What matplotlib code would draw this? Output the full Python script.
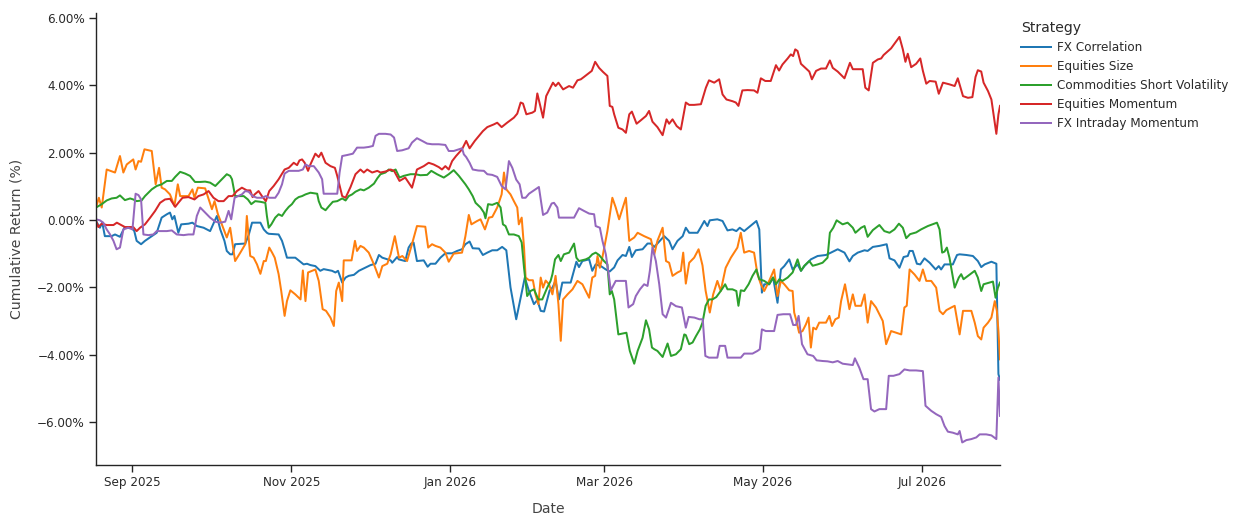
import pandas as pd
import matplotlib.pyplot as plt
from matplotlib.ticker import FuncFormatter

# series start date; day lists are calendar days after it
start = "2025-08-18"

strategies = ["FX Correlation", "Equities Size", "Commodities Short Volatility",
              "Equities Momentum", "FX Intraday Momentum"]
colors = ["#1f77b4", "#ff7f0e", "#2ca02c", "#d62728", "#9467bd"]

fx_corr_day = [0, 1.5, 2.4, 3.4, 6.0, 7.3, 9.2, 10.9, 13.7, 14.7, 15.6, 17.3, 18.8, 21.4, 23.3, 25.2, 27.2, 28.4,
               29.3, 30.1, 31.6, 32.7, 35.5, 37.0, 38.7, 41.3, 43.8, 46.4, 47.7, 49.3, 50.2, 51.5, 52.4, 53.4, 57.3,
               58.6, 59.9, 63.1, 64.4, 65.6, 66.3, 70.1, 71.4, 72.4, 73.3, 76.5, 77.8, 79.7, 81.0, 82.3, 84.2, 86.1,
               87.4, 90.6, 91.9, 92.9, 94.5, 95.8, 97.0, 99.0, 100.9, 102.2, 105.4, 107.3, 108.6, 109.9, 113.1, 113.7,
               115.6, 116.2, 118.7, 120.0, 121.0, 121.9, 123.2, 125.8, 127.3, 128.4, 130.3, 132.2, 134.1, 136.7, 138.6,
               140.5, 141.8, 143.4, 144.6, 147.0, 148.5, 150.2, 152.1, 154.0, 155.9, 157.5, 159.1, 161.3, 163.0, 164.6,
               166.2, 168.1, 169.4, 170.7, 172.0, 174.1, 175.2, 176.4, 177.7, 179.0, 182.2, 184.4, 185.4, 186.7, 189.3,
               190.5, 191.8, 193.8, 195.7, 197.2, 198.9, 200.2, 202.1, 203.4, 204.7, 205.7, 207.2, 209.8, 211.7, 213.0,
               214.3, 216.2, 218.1, 220.0, 221.3, 223.2, 225.2, 226.4, 227.7, 230.9, 232.2, 233.5, 234.7, 235.6, 238.5,
               240.5, 242.4, 244.3, 245.8, 247.1, 248.8, 250.7, 253.5, 254.6, 255.6, 256.5, 258.4, 259.9, 261.6, 262.9,
               264.2, 266.1, 267.4, 269.3, 270.6, 271.9, 274.4, 277.0, 280.2, 282.1, 284.7, 287.3, 289.2, 290.5, 292.4,
               295.0, 296.2, 298.2, 300.7, 303.5, 304.6, 306.5, 308.4, 310.0, 311.6, 312.3, 313.5, 315.1, 316.4, 318.0,
               320.0, 322.3, 323.5, 324.4, 325.7, 327.0, 328.9, 330.5, 331.5, 334.1, 336.6, 338.5, 339.8, 341.1, 343.7,
               345.6, 346.4, 347]
fx_corr_ret = [-0.03, -0.23, -0.08, -0.48, -0.48, -0.43, -0.50, -0.23, -0.23, -0.33, -0.62, -0.72, -0.62, -0.48,
               -0.38, 0.07, 0.17, 0.22, 0.02, 0.12, -0.38, -0.13, -0.11, -0.08, -0.18, -0.23, -0.33, 0.12, -0.28, -0.62,
               -0.92, -1.02, -1.02, -0.72, -0.70, -0.45, -0.08, -0.08, -0.28, -0.38, -0.41, -0.43, -0.62, -0.87, -1.12,
               -1.12, -1.20, -1.32, -1.30, -1.34, -1.37, -1.51, -1.46, -1.51, -1.56, -1.51, -1.86, -1.71, -1.66, -1.63,
               -1.51, -1.46, -1.34, -1.30, -1.04, -1.12, -1.20, -1.27, -1.10, -1.17, -1.22, -0.82, -0.70, -0.67, -1.22,
               -1.20, -1.39, -1.30, -1.30, -1.12, -0.99, -0.99, -0.92, -0.87, -0.72, -0.64, -0.84, -0.85, -1.04, -0.97,
               -0.90, -0.90, -0.80, -0.90, -2.00, -2.95, -2.31, -1.71, -2.11, -2.50, -2.38, -2.70, -2.72, -2.10, -2.01,
               -1.81, -2.36, -1.86, -1.86, -1.24, -1.40, -1.22, -1.17, -1.51, -1.32, -1.37, -1.47, -1.53, -1.41, -1.20,
               -1.04, -1.07, -0.80, -1.10, -0.90, -0.87, -0.70, -0.70, -0.80, -0.64, -0.48, -0.62, -0.87, -0.62, -0.48,
               -0.23, -0.38, -0.38, -0.21, -0.03, -0.18, -0.01, 0.02, -0.03, -0.31, -0.28, -0.33, -0.23, -0.33, -0.21,
               -0.03, -0.28, -2.16, -1.91, -1.91, -1.71, -2.46, -1.47, -1.37, -1.17, -1.47, -1.32, -1.51, -1.37, -1.17,
               -1.07, -1.04, -0.97, -0.87, -0.97, -1.23, -1.07, -0.97, -0.90, -0.92, -0.80, -0.77, -0.72, -1.14, -1.20,
               -1.42, -1.10, -1.07, -0.92, -0.92, -1.30, -1.32, -1.14, -1.27, -1.47, -1.37, -1.47, -1.32, -1.32, -1.32,
               -1.04, -1.02, -1.04, -1.07, -1.22, -1.40, -1.32, -1.24, -1.30, -4.58, -4.75]

eq_size_day = [0, 1.1, 2.2, 4.1, 7.3, 9.2, 10.5, 11.8, 14.3, 15.2, 16.3, 17.3, 18.6, 21.4, 22.9, 24.2, 25.2, 26.5,
               28.4, 30.1, 31.4, 32.3, 35.5, 37.0, 37.8, 39.1, 41.9, 44.5, 45.5, 46.8, 48.3, 50.2, 51.5, 53.4, 55.4,
               57.3, 57.9, 59.2, 60.5, 61.8, 63.1, 64.4, 65.2, 66.5, 67.6, 68.6, 70.1, 71.1, 72.4, 73.3, 74.6, 76.5,
               78.5, 79.4, 80.4, 81.4, 84.2, 85.5, 87.0, 88.3, 90.0, 91.3, 92.2, 93.2, 94.5, 95.1, 98.1, 99.4, 100.2,
               101.5, 102.8, 104.7, 106.7, 108.6, 109.9, 111.8, 113.1, 114.7, 116.3, 117.6, 119.4, 121.1, 123.2, 126.4,
               127.5, 129.0, 130.3, 132.2, 134.1, 135.4, 137.3, 140.5, 141.8, 143.1, 144.1, 146.3, 147.6, 149.3, 150.8,
               152.1, 154.0, 155.7, 156.6, 157.5, 159.1, 160.4, 161.7, 162.3, 163.4, 164.3, 164.9, 166.2, 167.7, 168.7,
               169.8, 170.7, 171.6, 172.6, 173.9, 175.2, 176.4, 177.5, 178.4, 179.3, 181.0, 182.9, 184.8, 186.7, 189.3,
               190.5, 191.6, 192.5, 193.4, 194.4, 196.3, 198.2, 199.5, 200.8, 203.4, 204.7, 206.6, 207.9, 210.4, 213.0,
               214.3, 215.5, 217.5, 218.8, 220.0, 221.3, 223.2, 224.5, 225.4, 226.4, 227.7, 229.6, 231.3, 232.8, 234.0,
               235.6, 236.9, 238.5, 239.8, 241.7, 243.7, 246.2, 247.5, 248.8, 250.7, 252.6, 253.9, 255.2, 256.5, 258.4,
               260.3, 261.6, 262.9, 264.2, 266.1, 267.4, 268.0, 268.7, 269.9, 271.2, 272.5, 273.5, 274.4, 275.3, 276.4,
               277.6, 280.2, 281.5, 282.5, 283.8, 285.1, 286.0, 287.5, 289.2, 290.5, 291.5, 293.7, 295.0, 296.2, 297.5,
               299.4, 300.7, 302.0, 303.3, 305.2, 307.1, 309.1, 310.3, 311.2, 312.3, 314.2, 316.1, 317.4, 318.7, 320.6,
               322.5, 323.8, 325.1, 326.4, 328.3, 329.6, 331.5, 332.8, 336.0, 337.3, 338.5, 339.8, 340.7, 342.4, 343.7,
               345.0, 345.8, 346.4, 347]
eq_size_ret = [0.37, 0.66, 0.37, 1.50, 1.41, 1.90, 1.41, 1.65, 1.80, 1.50, 1.75, 1.73, 2.10, 2.05, 1.06, 1.55, 0.96,
               0.91, 0.76, 0.42, 1.06, 0.71, 0.71, 0.91, 0.66, 0.96, 0.94, 0.32, 0.56, 0.17, -0.13, -0.52, -0.23, -1.22,
               -0.97, -0.72, 0.12, -1.07, -1.12, -1.32, -1.60, -1.22, -1.22, -0.82, -0.97, -1.12, -1.61, -2.11, -2.85,
               -2.41, -2.09, -2.21, -2.36, -1.50, -2.41, -1.56, -1.47, -1.81, -2.65, -2.70, -2.90, -3.15, -2.11, -1.86,
               -2.41, -1.20, -1.20, -0.62, -0.92, -0.77, -0.82, -0.97, -1.32, -1.71, -1.37, -1.30, -1.02, -0.48, -1.12,
               -1.07, -1.22, -0.77, -0.18, -0.20, -0.82, -0.72, -0.77, -0.82, -0.97, -1.24, -1.00, -0.97, -0.48, 0.15,
               -0.13, -0.03, 0.02, -0.28, 0.07, 0.09, 0.37, 0.76, 1.41, 0.91, 0.76, 0.56, 0.37, -0.13, 0.07, -0.82,
               -1.71, -1.79, -1.79, -2.21, -2.50, -1.71, -2.01, -1.80, -1.91, -2.21, -1.66, -2.50, -3.59, -2.36, -2.21,
               -2.06, -1.81, -1.91, -2.31, -1.71, -1.66, -1.07, -1.42, -1.10, -0.33, 0.66, 0.37, 0.02, 0.66, -0.62,
               -0.52, -0.38, -0.48, -0.57, -1.02, -0.62, -0.23, -1.22, -1.27, -1.66, -1.56, -1.51, -0.97, -1.89, -1.27,
               -1.12, -0.87, -1.35, -2.10, -2.75, -2.21, -1.81, -2.11, -1.42, -1.12, -0.82, -0.38, -0.97, -0.92, -0.97,
               -1.61, -1.91, -2.11, -1.81, -1.47, -2.26, -1.81, -1.91, -2.09, -2.11, -2.75, -2.95, -3.35, -3.30, -3.10,
               -2.90, -3.79, -3.20, -3.25, -3.05, -3.05, -2.85, -3.15, -2.95, -2.90, -2.41, -1.91, -2.65, -2.21, -2.55,
               -2.55, -2.21, -3.05, -2.41, -2.60, -2.80, -3.00, -3.69, -3.30, -3.35, -3.40, -2.60, -2.55, -1.47, -1.62,
               -1.81, -1.47, -1.81, -1.81, -2.01, -2.70, -2.80, -2.68, -2.60, -2.55, -3.40, -2.70, -2.70, -3.05, -3.45,
               -3.55, -3.20, -3.05, -2.90, -2.41, -2.70, -3.30, -4.14]

cmdty_sv_day = [0, 2.2, 4.1, 6.0, 7.9, 9.2, 11.1, 13.1, 14.3, 15.6, 17.5, 18.8, 21.4, 23.3, 25.2, 27.2, 29.1, 30.4,
                32.3, 34.2, 36.1, 38.0, 40.0, 41.9, 43.8, 45.8, 47.3, 50.2, 51.5, 52.2, 53.4, 54.7, 56.7, 58.3, 59.6,
                61.1, 63.1, 65.0, 65.6, 66.3, 67.3, 68.8, 70.1, 71.4, 72.7, 74.0, 75.2, 76.5, 77.8, 79.1, 80.4, 82.3,
                84.9, 85.5, 86.5, 88.1, 89.4, 90.9, 92.6, 94.5, 95.8, 97.0, 98.3, 99.6, 101.5, 102.8, 104.7, 106.7,
                108.0, 109.2, 111.1, 112.4, 113.7, 115.0, 116.5, 118.1, 120.7, 122.6, 124.5, 127.1, 128.7, 130.9,
                133.5, 135.4, 137.3, 139.3, 141.8, 143.1, 144.6, 145.7, 147.6, 148.9, 149.5, 150.5, 152.1, 154.0, 155.3,
                156.2, 157.2, 158.5, 160.4, 162.3, 163.4, 164.3, 165.5, 166.8, 168.1, 169.8, 171.3, 173.2, 174.5,
                175.2, 176.2, 177.5, 178.4, 179.6, 181.6, 183.5, 184.4, 185.4, 188.0, 189.3, 190.5, 191.8, 193.1,
                195.0, 196.3, 197.2, 198.0, 198.9, 200.5, 201.8, 203.6, 204.9, 206.6, 207.9, 209.8, 211.1, 212.3,
                213.4, 214.3, 215.5, 217.5, 219.4, 220.7, 222.6, 224.5, 225.8, 226.4, 227.7, 229.0, 230.3, 231.8,
                232.8, 234.0, 235.3, 236.6, 238.1, 239.8, 241.5, 242.4, 244.3, 245.8, 246.6, 247.5, 248.8, 250.5,
                252.0, 253.5, 254.6, 256.5, 258.4, 259.9, 261.0, 262.3, 263.5, 265.5, 267.4, 269.3, 270.6, 271.9,
                273.8, 275.1, 277.0, 278.9, 280.8, 281.7, 283.0, 284.3, 286.6, 288.5, 289.2, 290.5, 291.5, 293.7,
                295.0, 296.2, 298.2, 300.7, 302.6, 304.6, 306.5, 308.2, 309.7, 311.0, 312.5, 314.8, 316.7, 319.3,
                322.8, 323.8, 324.8, 325.7, 326.6, 327.6, 329.6, 331.2, 332.1, 333.0, 334.7, 337.3, 338.5, 339.8,
                340.7, 343.0, 344.3, 345.3, 346.2, 347]
cmdty_sv_ret = [0.37, 0.47, 0.58, 0.64, 0.66, 0.73, 0.59, 0.64, 0.61, 0.56, 0.58, 0.71, 0.91, 1.01, 1.06, 1.16,
                1.16, 1.28, 1.43, 1.38, 1.31, 1.13, 1.13, 1.14, 1.11, 1.01, 1.13, 1.36, 1.31, 1.21, 0.71, 0.71, 0.71,
                0.61, 0.47, 0.56, 0.54, 0.51, 0.12, -0.23, -0.13, 0.07, 0.17, 0.12, 0.27, 0.39, 0.47, 0.61, 0.68, 0.71,
                0.76, 0.81, 0.78, 0.56, 0.37, 0.29, 0.41, 0.54, 0.56, 0.64, 0.58, 0.71, 0.76, 0.84, 0.91, 0.88, 0.96,
                1.08, 1.24, 1.36, 1.41, 1.50, 1.45, 1.50, 1.26, 1.31, 1.36, 1.36, 1.33, 1.34, 1.46, 1.36, 1.26, 1.36,
                1.48, 1.31, 1.06, 0.91, 0.71, 0.51, 0.37, 0.22, 0.05, 0.47, 0.45, 0.51, 0.37, -0.13, -0.18, -0.43,
                -0.43, -0.48, -0.67, -1.42, -2.26, -2.11, -2.06, -2.36, -2.36, -2.01, -1.81, -1.61, -1.17, -1.04, -1.22,
                -1.02, -0.97, -0.70, -1.12, -1.22, -1.17, -1.12, -1.02, -0.97, -1.04, -1.22, -1.32, -2.21, -2.11,
                -2.36, -3.40, -3.38, -3.35, -3.89, -4.27, -3.89, -3.50, -2.98, -3.25, -3.79, -3.84, -3.89, -4.07,
                -3.67, -4.04, -3.99, -3.84, -3.40, -3.42, -3.69, -3.64, -3.45, -3.25, -3.05, -2.55, -2.36, -2.36,
                -2.29, -2.11, -1.91, -2.06, -2.06, -2.11, -2.55, -2.09, -2.11, -1.91, -1.66, -1.47, -1.76, -1.81,
                -1.91, -1.71, -1.91, -1.76, -1.81, -1.71, -1.56, -1.17, -1.51, -1.36, -1.22, -1.36, -1.32, -1.27,
                -1.12, -0.38, -0.23, -0.01, -0.13, -0.08, -0.13, -0.23, -0.38, -0.23, -0.18, -0.50, -0.30, -0.15,
                -0.33, -0.38, -0.28, -0.11, -0.23, -0.54, -0.42, -0.37, -0.28, -0.18, -0.08, -0.28, -0.97, -0.94,
                -0.82, -1.12, -2.01, -1.71, -1.61, -1.76, -1.66, -1.51, -1.71, -2.11, -1.91, -1.86, -1.83, -2.31,
                -2.01, -1.86]

eq_mom_day = [0, 0.9, 2.2, 4.1, 6.7, 8.0, 9.2, 11.1, 14.3, 15.6, 16.9, 18.8, 20.8, 22.7, 24.6, 26.5, 28.4, 30.4,
              31.6, 33.2, 35.5, 37.8, 39.3, 41.3, 43.2, 45.1, 47.0, 49.0, 50.9, 52.4, 54.1, 56.0, 57.9, 59.2, 60.1,
              60.9, 62.4, 63.7, 65.2, 66.5, 68.2, 70.1, 72.4, 74.0, 75.9, 77.2, 78.1, 79.1, 80.1, 81.4, 82.3, 84.2,
              85.5, 86.5, 88.1, 90.0, 91.7, 92.6, 94.5, 95.8, 97.7, 99.6, 101.5, 102.8, 104.1, 106.0, 108.0, 109.2,
              111.1, 113.1, 114.4, 116.5, 118.7, 121.3, 123.2, 125.8, 127.7, 129.6, 131.6, 132.8, 134.1, 135.4,
              136.7, 138.2, 140.5, 142.1, 143.4, 145.4, 147.0, 148.5, 150.2, 152.7, 154.0, 155.7, 157.8, 160.4,
              161.7, 163.0, 163.9, 165.2, 167.5, 168.5, 169.4, 170.7, 171.6, 172.8, 174.1, 175.4, 176.4, 177.5,
              179.3, 181.6, 183.1, 184.8, 186.1, 187.3, 190.3, 191.6, 193.1, 194.6, 196.3, 197.2, 198.2, 198.9,
              200.5, 202.1, 203.4, 204.7, 205.7, 207.5, 209.1, 211.1, 212.3, 213.6, 215.5, 217.5, 219.0, 220.0,
              221.3, 222.9, 224.5, 226.4, 227.7, 229.6, 232.2, 233.5, 234.1, 235.3, 237.3, 239.2, 240.5, 242.0,
              244.3, 245.6, 246.6, 248.1, 250.1, 252.6, 253.9, 255.2, 256.9, 259.0, 261.0, 262.2, 263.5, 265.5,
              266.7, 267.6, 268.4, 269.3, 270.6, 272.3, 273.8, 274.8, 276.4, 278.3, 280.2, 281.7, 282.8, 284.7,
              287.3, 289.4, 290.5, 292.4, 294.3, 295.3, 296.6, 298.2, 300.1, 301.4, 302.3, 303.3, 305.2, 306.5,
              308.4, 309.7, 310.7, 311.6, 312.9, 314.8, 316.4, 317.4, 318.7, 320.0, 322.3, 323.5, 325.1, 327.6,
              329.6, 330.8, 332.8, 334.7, 336.4, 337.6, 338.5, 339.8, 340.7, 342.4, 343.7, 345.6, 346.4, 347]
eq_mom_ret = [-0.03, -0.21, -0.11, -0.15, -0.15, -0.08, -0.13, -0.21, -0.21, -0.33, -0.23, -0.13, 0.07, 0.27, 0.51,
              0.61, 0.63, 0.39, 0.51, 0.66, 0.68, 0.61, 0.71, 0.76, 0.86, 0.66, 0.56, 0.56, 0.71, 0.71, 0.86, 0.96,
              0.88, 0.88, 0.68, 0.76, 0.86, 0.71, 0.56, 0.86, 1.01, 1.21, 1.50, 1.55, 1.70, 1.63, 1.77, 1.80, 1.70,
              1.46, 1.65, 1.97, 1.87, 2.00, 1.70, 1.60, 1.55, 1.31, 0.71, 0.66, 0.98, 1.36, 1.50, 1.41, 1.50, 1.41,
              1.46, 1.41, 1.44, 1.50, 1.46, 1.16, 1.26, 0.96, 1.50, 1.60, 1.70, 1.65, 1.57, 1.50, 1.60, 1.50, 1.75,
              1.90, 2.10, 2.35, 2.13, 2.35, 2.50, 2.64, 2.76, 2.84, 2.89, 2.76, 2.89, 3.04, 3.16, 3.49, 3.46, 3.14,
              3.19, 3.24, 3.76, 3.34, 3.04, 3.68, 3.88, 4.08, 3.98, 4.08, 3.88, 3.98, 3.93, 4.15, 4.18, 4.25, 4.43,
              4.70, 4.52, 4.40, 4.28, 3.39, 3.36, 3.14, 2.74, 2.69, 2.59, 3.14, 3.22, 2.86, 2.96, 3.09, 3.24, 2.92,
              2.76, 2.52, 2.99, 2.86, 2.99, 2.79, 2.69, 3.49, 3.42, 3.42, 3.44, 3.78, 3.93, 4.15, 4.08, 4.18, 3.73,
              3.58, 3.53, 3.49, 3.39, 3.85, 3.86, 3.85, 3.78, 4.21, 4.13, 4.13, 4.60, 4.44, 4.62, 4.80, 4.92, 4.87,
              5.07, 5.02, 4.64, 4.52, 4.41, 4.18, 4.43, 4.50, 4.50, 4.74, 4.52, 4.41, 4.21, 4.67, 4.48, 4.48, 4.48,
              3.93, 3.85, 4.67, 4.77, 4.80, 4.90, 4.97, 5.10, 5.24, 5.44, 5.07, 4.70, 4.94, 4.54, 4.64, 4.80, 4.43,
              4.05, 4.13, 4.11, 3.75, 4.08, 4.03, 3.98, 4.21, 3.68, 3.63, 3.65, 4.25, 4.45, 4.41, 4.08, 3.83, 3.58,
              2.56, 3.14, 3.39]

fx_intra_day = [0, 1.5, 2.8, 4.1, 5.4, 6.7, 7.9, 9.2, 10.5, 12.4, 14.0, 15.2, 16.3, 17.3, 18.2, 20.1, 22.0, 23.3,
                25.2, 27.2, 29.1, 31.0, 33.6, 35.5, 37.4, 38.7, 40.0, 41.9, 43.8, 45.8, 47.7, 49.6, 50.9, 51.9, 53.2,
                54.5, 56.0, 57.3, 58.6, 60.1, 61.8, 63.7, 65.2, 66.5, 68.8, 70.1, 71.4, 72.4, 74.0, 75.9, 77.8, 79.4,
                80.4, 81.7, 83.6, 85.5, 86.8, 87.4, 89.3, 91.3, 92.6, 93.5, 94.5, 96.4, 98.6, 100.2, 102.8, 104.7,
                106.3, 107.3, 108.6, 111.1, 113.1, 114.4, 115.6, 117.5, 120.0, 121.3, 123.2, 125.2, 127.1, 129.0,
                131.6, 134.1, 135.4, 137.3, 139.3, 140.5, 141.2, 142.1, 143.4, 144.6, 146.7, 148.9, 150.2, 152.1,
                154.0, 155.7, 157.2, 158.5, 159.8, 161.3, 162.6, 163.6, 164.9, 166.2, 168.7, 170.0, 171.6, 173.2,
                174.9, 175.8, 177.1, 177.7, 179.6, 181.6, 183.5, 185.4, 187.3, 189.3, 191.2, 191.8, 193.4, 194.4,
                195.7, 196.7, 197.6, 199.5, 201.4, 203.4, 204.4, 206.2, 207.2, 208.8, 210.4, 211.7, 212.6, 213.6,
                214.9, 216.2, 217.5, 218.8, 220.7, 222.6, 224.9, 226.4, 227.5, 229.7, 231.6, 232.9, 233.9, 235.3,
                238.5, 239.4, 241.5, 242.4, 244.3, 247.5, 248.8, 252.0, 253.9, 254.8, 255.6, 257.1, 260.3, 261.6,
                263.8, 266.4, 267.6, 268.7, 269.7, 271.0, 273.1, 275.3, 276.6, 278.9, 280.8, 282.8, 284.7, 286.6,
                288.5, 290.5, 291.3, 293.0, 294.6, 296.2, 297.5, 298.8, 300.7, 303.3, 304.3, 306.1, 308.4, 310.3,
                312.3, 314.8, 317.4, 318.4, 320.6, 322.5, 324.4, 325.7, 327.0, 328.9, 330.8, 331.5, 332.5, 334.1,
                336.0, 337.9, 339.2, 341.7, 343.7, 345.6, 346.4, 347]
fx_intra_ret = [0.02, -0.01, -0.08, -0.28, -0.43, -0.62, -0.87, -0.82, -0.28, -0.23, -0.28, 0.78, 0.74, 0.61,
                -0.43, -0.45, -0.43, -0.33, -0.33, -0.33, -0.31, -0.43, -0.45, -0.43, -0.43, 0.12, 0.37, 0.22, 0.07,
                -0.05, -0.08, -0.05, 0.27, 0.02, 0.66, 0.71, 0.76, 0.86, 0.84, 0.71, 0.66, 0.66, 0.71, 0.66, 0.66,
                0.81, 1.06, 1.38, 1.46, 1.46, 1.46, 1.50, 1.65, 1.60, 1.60, 1.41, 1.21, 0.78, 0.78, 0.78, 0.78, 1.41,
                1.90, 1.93, 1.97, 2.15, 2.15, 2.17, 2.20, 2.50, 2.56, 2.56, 2.54, 2.45, 2.05, 2.07, 2.13, 2.30, 2.43,
                2.35, 2.27, 2.25, 2.25, 2.23, 2.05, 2.05, 2.10, 2.13, 1.95, 1.87, 1.70, 1.50, 1.47, 1.46, 1.36, 1.34,
                1.28, 1.01, 0.91, 1.75, 1.55, 1.20, 1.06, 0.66, 0.66, 0.78, 0.91, 0.98, 0.15, 0.22, 0.49, 0.51, 0.37,
                0.07, 0.07, 0.07, 0.07, 0.35, 0.27, 0.19, 0.17, -0.18, -0.23, -0.62, -1.02, -1.56, -2.09, -1.81,
                -1.81, -1.81, -2.60, -2.50, -2.26, -2.06, -1.91, -1.96, -1.51, -0.82, -1.22, -1.91, -2.80, -2.90,
                -2.46, -2.56, -2.60, -3.20, -2.88, -2.90, -2.95, -2.95, -4.04, -4.09, -4.09, -3.74, -3.74, -4.09,
                -4.09, -4.09, -3.97, -3.97, -3.89, -3.84, -3.25, -3.30, -3.30, -2.82, -2.80, -2.80, -3.12, -3.12,
                -2.85, -3.69, -3.99, -4.04, -4.17, -4.19, -4.20, -4.23, -4.19, -4.27, -4.29, -4.31, -4.11, -4.39,
                -4.73, -4.73, -5.62, -5.69, -5.62, -5.62, -4.63, -4.63, -4.58, -4.44, -4.47, -4.47, -4.49, -5.52,
                -5.67, -5.77, -5.85, -6.12, -6.29, -6.32, -6.37, -6.27, -6.61, -6.54, -6.51, -6.46, -6.37, -6.37,
                -6.40, -6.51, -4.68, -5.82]

series = [(fx_corr_day, fx_corr_ret), (eq_size_day, eq_size_ret), (cmdty_sv_day, cmdty_sv_ret),
          (eq_mom_day, eq_mom_ret), (fx_intra_day, fx_intra_ret)]

# x ticks every two months
tick_dates = ["2025-09-01", "2025-11-01", "2026-01-01", "2026-03-01", "2026-05-01", "2026-07-01"]
tick_labels = ["Sep 2025", "Nov 2025", "Jan 2026", "Mar 2026", "May 2026", "Jul 2026"]
y_ticks = [-6, -4, -2, 0, 2, 4, 6]

plt.rcParams['font.family'] = ['DejaVu Sans']
px = 72 / 100  # pixel -> point

fig = plt.figure(figsize=(12.4, 5.3), dpi=100)
ax = fig.add_axes([96 / 1240, 1 - 465 / 530, 904 / 1240, 452 / 530])

t0 = pd.Timestamp(start)
for (d, r), name, c in zip(series, strategies, colors):
    x = t0 + pd.to_timedelta(d, unit='D')
    ax.plot(x, r, color=c, lw=2 * px, label=name)

ax.set_xlim(t0, t0 + pd.Timedelta(days=347))
ax.set_ylim(-7.28, 6.15)

ax.set_xticks(pd.to_datetime(tick_dates))
ax.set_xticklabels(tick_labels)
ax.set_yticks(y_ticks)
ax.yaxis.set_major_formatter(FuncFormatter(lambda v, p: f"{v:.2f}%".replace("-", "\u2212")))

for s in ['top', 'right']:
    ax.spines[s].set_visible(False)
for s in ['left', 'bottom']:
    ax.spines[s].set_color('#242424')
    ax.spines[s].set_linewidth(1)
ax.tick_params(direction='out', length=5, width=1, color='#242424',
               labelsize=12 * px, labelcolor='#2a2a2a', pad=3)

ax.set_xlabel('Date', fontsize=14 * px, color='#444444', labelpad=9)
ax.set_ylabel('Cumulative Return (%)', fontsize=14 * px, color='#444444', labelpad=10)

leg = fig.legend(loc='upper left', bbox_to_anchor=(1016 / 1240, 1 - 16 / 530), frameon=False,
                 title='Strategy', title_fontsize=14 * px, fontsize=12 * px, handlelength=2.5,
                 handletextpad=0.5, labelspacing=0.5, alignment='left', borderaxespad=0)
for t in leg.get_texts():
    t.set_color('#2a2a2a')
leg.get_title().set_color('#2a2a2a')

fig.savefig('out.png', dpi=100)
